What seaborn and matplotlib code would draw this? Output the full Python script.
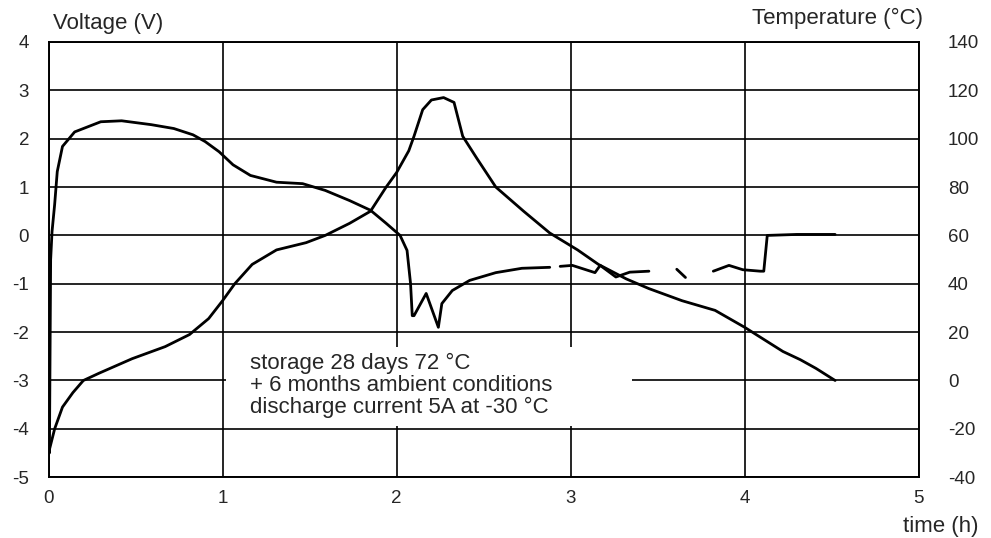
import numpy as np
import pandas as pd
import seaborn as sns
import matplotlib.pyplot as plt
from matplotlib.patches import Rectangle

# voltage curve (V), split where the printed trace has gaps
volt_time = [0.0, 0.005, 0.012, 0.02, 0.035, 0.05, 0.08, 0.15, 0.3, 0.42, 0.59, 0.72, 0.83, 0.9, 0.98,
             1.06, 1.16, 1.31, 1.46, 1.59, 1.73, 1.85, 1.94, 2.02, 2.06, 2.08, 2.09, 2.1, 2.17, 2.24, 2.26,
             2.32, 2.42, 2.57, 2.72, 2.88,
             2.94, 3.01, 3.14, 3.17, 3.26, 3.34, 3.45,
             3.61, 3.66,
             3.82, 3.91, 3.99, 4.09, 4.11, 4.13, 4.3, 4.52]
volt_value = [-4.2, -4.5, -0.5, 0.08, 0.64, 1.32, 1.84, 2.14, 2.35, 2.37, 2.29, 2.21, 2.08, 1.94, 1.73,
              1.46, 1.24, 1.1, 1.07, 0.93, 0.72, 0.52, 0.25, 0.0, -0.31, -0.99, -1.66, -1.66, -1.2, -1.9, -1.41,
              -1.14, -0.93, -0.77, -0.68, -0.66,
              -0.64, -0.62, -0.77, -0.62, -0.86, -0.76, -0.74,
              -0.7, -0.87,
              -0.74, -0.62, -0.71, -0.74, -0.74, 0.0, 0.02, 0.02]
volt_piece = [0] * 36 + [1] * 7 + [2] * 2 + [3] * 8

# temperature curve (°C)
temp_time = [0.0, 0.035, 0.08, 0.14, 0.2, 0.29, 0.48, 0.67, 0.81, 0.92, 1.0, 1.07, 1.17, 1.31, 1.48,
             1.59, 1.73, 1.85, 1.94, 2.0, 2.07, 2.1, 2.15, 2.2, 2.27, 2.33, 2.38, 2.46, 2.57, 2.73,
             2.88, 3.04, 3.16, 3.32, 3.45, 3.64, 3.83, 4.0, 4.22, 4.32, 4.41, 4.52]
temp_value = [-30, -20, -11, -5, 0, 3, 9, 14, 19, 25.6, 33, 40, 48, 54, 57,
              60, 65, 70, 80, 86, 95, 101, 112, 116, 117, 115, 101, 92, 80, 70,
              61, 54, 48, 42, 38, 33, 29, 22, 12, 8.6, 5, 0]

note = "storage 28 days 72 °C\n+ 6 months ambient conditions\ndischarge current 5A at -30 °C"

volt = pd.DataFrame({"time": volt_time, "volt": volt_value, "piece": volt_piece})
temp = pd.DataFrame({"time": temp_time, "temp": temp_value})

sns.set_style("white")
plt.rcParams["font.family"] = ["Liberation Sans", "DejaVu Sans"]
plt.rcParams["axes.unicode_minus"] = False

fig = plt.figure(figsize=(9.91, 5.38), dpi=100)
ax = fig.add_axes([0.049, 0.113, 0.878, 0.809])
ax2 = ax.twinx()

ax.set_xlim(0, 5)
ax.set_ylim(-5, 4)
ax2.set_ylim(-40, 140)
ax.set_xticks(range(0, 6))
ax.set_yticks(range(-5, 5))
ax2.set_yticks(range(-40, 141, 20))

ax.grid(True, color="black", lw=1.2)
ax.set_axisbelow(True)

# white area behind the note, hides grid there
ax.add_patch(Rectangle((1.02, -3.95), 2.33, 1.65, facecolor="white", edgecolor="none", zorder=1))

sns.lineplot(data=volt, x="time", y="volt", units="piece", ax=ax, sort=False, estimator=None,
             color="black", lw=2, zorder=3)
sns.lineplot(data=temp, x="time", y="temp", ax=ax2, sort=False, estimator=None,
             color="black", lw=2, zorder=3)

ax.text(1.155, -2.42, note, fontsize=16, va="top", ha="left", linespacing=1.07, zorder=4)

for a in (ax, ax2):
    a.set_xlabel("")
    a.set_ylabel("")
    for s in a.spines.values():
        s.set_color("black")
        s.set_linewidth(1.2)
ax.tick_params(axis="y", length=0, pad=14, labelsize=13.5)
ax.tick_params(axis="x", length=0, pad=9, labelsize=13.5)
ax2.tick_params(axis="y", length=0, pad=21, labelsize=13.5)

fig.text(0.053, 0.957, "Voltage (V)", fontsize=16, ha="left", va="center")
fig.text(0.931, 0.965, "Temperature (°C)", fontsize=16, ha="right", va="center")
fig.text(0.987, 0.022, "time (h)", fontsize=16, ha="right", va="center")

fig.savefig("out.png", dpi=100)
